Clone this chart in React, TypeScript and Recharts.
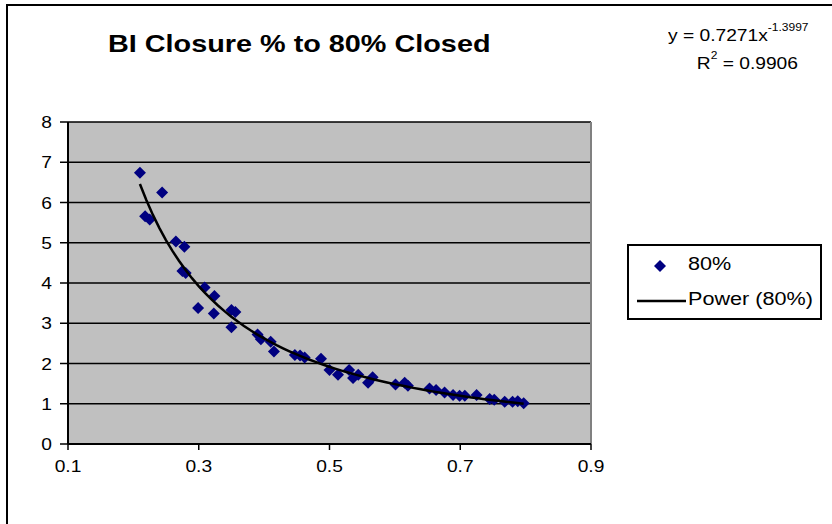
import { ScatterChart, Scatter, XAxis, YAxis, CartesianGrid, ReferenceLine } from 'recharts'

// Share of BI claims closed (x) vs. development factor to 80% closed (y)
const closurePct = [
  0.21, 0.244, 0.218, 0.225, 0.265, 0.278, 0.275, 0.28, 0.309, 0.324,
  0.299, 0.323, 0.35, 0.356, 0.35, 0.39, 0.395, 0.41, 0.415, 0.447,
  0.455, 0.462, 0.487, 0.5, 0.513, 0.53, 0.536, 0.544, 0.559, 0.566,
  0.601, 0.615, 0.62, 0.653, 0.663, 0.676, 0.689, 0.699, 0.707, 0.725,
  0.745, 0.752, 0.768, 0.78, 0.788, 0.797
]
const factorTo80 = [
  6.74, 6.25, 5.66, 5.58, 5.03, 4.9, 4.3, 4.25, 3.89, 3.68,
  3.38, 3.24, 3.33, 3.28, 2.9, 2.72, 2.6, 2.54, 2.3, 2.21,
  2.2, 2.15, 2.12, 1.84, 1.72, 1.84, 1.64, 1.72, 1.52, 1.66,
  1.48, 1.52, 1.45, 1.38, 1.34, 1.28, 1.22, 1.2, 1.2, 1.22,
  1.12, 1.1, 1.05, 1.05, 1.06, 1.01
]

// power trendline coefficients (y = a * x^b)
const fitA = 0.7271
const fitB = -1.3997
const fitR2 = 0.9906

const xTicks = [0.1, 0.3, 0.5, 0.7, 0.9]
const yTicks = [0, 1, 2, 3, 4, 5, 6, 7, 8]

const points = closurePct.map((x, i) => ({ x, y: factorTo80[i] }))

const xMin = Math.min(...closurePct)
const xMax = Math.max(...closurePct)
const trend = Array.from({ length: 60 }, (_, i) => {
  const x = xMin + ((xMax - xMin) * i) / 59
  return { x, y: fitA * Math.pow(x, fitB) }
})

const FONT = '"Liberation Sans", Arial, sans-serif'
const STRETCH = 1.2

const Diamond = (props: any) => {
  const { cx, cy } = props
  if (cx == null || cy == null) return null
  const r = 6
  return (
    <polygon
      points={`${cx},${cy - r} ${cx + r},${cy} ${cx},${cy + r} ${cx - r},${cy}`}
      fill="#000080"
    />
  )
}

const XTick = ({ x, y, payload }: any) => (
  <text
    transform={`translate(${x},${y + 20}) scale(${STRETCH},1)`}
    textAnchor="middle"
    fontFamily={FONT}
    fontSize={16}
    fill="#000"
  >
    {payload.value.toFixed(1)}
  </text>
)

const YTick = ({ x, y, payload }: any) => (
  <text
    transform={`translate(${x - 6},${y + 6}) scale(${STRETCH},1)`}
    textAnchor="end"
    fontFamily={FONT}
    fontSize={16}
    fill="#000"
  >
    {payload.value}
  </text>
)

const stretched = { transform: `scaleX(${STRETCH})`, transformOrigin: 'left top' } as const

export default function App() {
  return (
    <div style={{ position: 'absolute', left: 0, top: 0, width: 832, height: 524, overflow: 'hidden', background: '#fff' }}>
      <div
        style={{
          position: 'absolute',
          left: 6,
          top: 4,
          width: 840,
          height: 540,
          border: '2px solid #000',
          boxSizing: 'border-box'
        }}
      />
      <div
        style={{
          position: 'absolute',
          left: 108,
          top: 30,
          whiteSpace: 'nowrap',
          fontFamily: FONT,
          fontWeight: 'bold',
          fontSize: 24,
          ...stretched
        }}
      >
        BI Closure % to 80% Closed
      </div>
      <div
        style={{
          position: 'absolute',
          left: 668,
          top: 22,
          whiteSpace: 'nowrap',
          fontFamily: FONT,
          fontSize: 16,
          lineHeight: '28px',
          ...stretched
        }}
      >
        <div>
          y = {fitA}x<sup style={{ fontSize: 10, verticalAlign: 'top', lineHeight: '12px' }}>{fitB}</sup>
        </div>
        <div style={{ paddingLeft: 24 }}>
          R<sup style={{ fontSize: 10, verticalAlign: 'top', lineHeight: '12px' }}>2</sup> = {fitR2}
        </div>
      </div>
      <ScatterChart
        width={832}
        height={524}
        margin={{ top: 122, right: 241, bottom: 50, left: 0 }}
        style={{ position: 'absolute', left: 0, top: 0 }}
      >
        <CartesianGrid
          horizontal
          vertical={false}
          fill="#C0C0C0"
          stroke="#000"
          strokeWidth={1.5}
          fillOpacity={1}
        />
        <XAxis
          type="number"
          dataKey="x"
          domain={[0.1, 0.9]}
          ticks={xTicks}
          allowDataOverflow
          height={30}
          tickSize={6}
          axisLine={{ stroke: '#000', strokeWidth: 2 }}
          tickLine={{ stroke: '#000', strokeWidth: 1.5 }}
          tick={<XTick />}
        />
        <YAxis
          type="number"
          dataKey="y"
          domain={[0, 8]}
          ticks={yTicks}
          allowDataOverflow
          width={68}
          tickSize={8}
          axisLine={{ stroke: '#000', strokeWidth: 2 }}
          tickLine={{ stroke: '#000', strokeWidth: 1.5 }}
          tick={<YTick />}
        />
        <ReferenceLine x={0.9} stroke="#808080" strokeWidth={2} />
        <Scatter name="80%" data={points} shape={<Diamond />} isAnimationActive={false} />
        <Scatter
          name="Power (80%)"
          data={trend}
          line={{ stroke: '#000', strokeWidth: 2.5 }}
          shape={() => null}
          isAnimationActive={false}
        />
      </ScatterChart>
      <div
        style={{
          position: 'absolute',
          left: 627,
          top: 244,
          width: 195,
          height: 76,
          border: '2px solid #000',
          background: '#fff',
          boxSizing: 'border-box',
          fontFamily: FONT,
          fontSize: 18
        }}
      >
        <svg width={62} height={72} style={{ position: 'absolute', left: 0, top: 0 }}>
          <polygon points="31,14 37,20 31,26 25,20" fill="#000080" />
          <line x1={8} y1={55} x2={57} y2={55} stroke="#000" strokeWidth={2.5} />
        </svg>
        <span style={{ position: 'absolute', left: 59, top: 8, whiteSpace: 'nowrap', ...stretched }}>80%</span>
        <span style={{ position: 'absolute', left: 59, top: 43, whiteSpace: 'nowrap', ...stretched }}>Power (80%)</span>
      </div>
    </div>
  )
}
